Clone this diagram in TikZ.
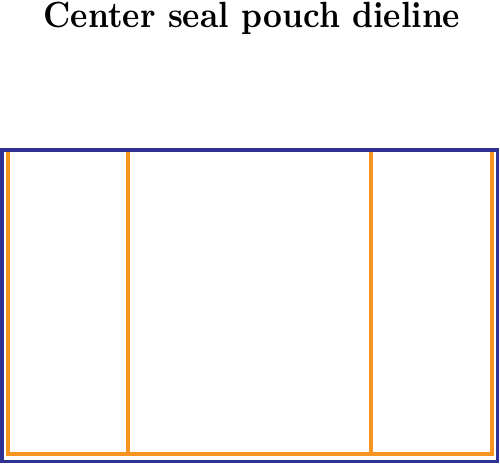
\documentclass[tikz,border=0pt]{standalone}
\usepackage{fontspec}
\newfontfamily\titlefont{lmroman10-bold.otf}
\definecolor{dieblue}{RGB}{46,49,146}
\definecolor{foldorange}{RGB}{247,148,29}
\begin{document}
\begin{tikzpicture}[x=1pt,y=-1pt]
\useasboundingbox (0,0) rectangle (500,465);
\node[anchor=base, inner sep=0pt] (title) at (252,28) {\scalebox{0.9}[1]{\fontsize{36.4}{36.4}\titlefont Center seal pouch dieline}};
% fold lines
\draw[foldorange, line width=4pt] (8,151) -- (8,454) -- (492,454) -- (492,151);
\draw[foldorange, line width=4pt] (128,151) -- (128,454);
\draw[foldorange, line width=4pt] (371,151) -- (371,454);
% outer cut line
\draw[dieblue, line width=3.5pt] (2,150) rectangle (497.5,461.5);
\end{tikzpicture}
\end{document}
